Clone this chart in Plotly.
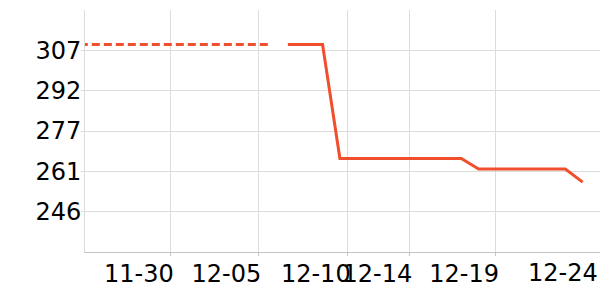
import plotly.graph_objects as go

# Dashed (earlier) series
past_dates = ["2023-11-25", "2023-11-26", "2023-11-27", "2023-11-28", "2023-11-29",
              "2023-11-30", "2023-12-01", "2023-12-02", "2023-12-03", "2023-12-04",
              "2023-12-05", "2023-12-06"]
past_values = [309.45, 309.45, 309.45, 309.45, 309.45, 309.45,
               309.45, 309.45, 309.45, 309.45, 309.45, 309.45]

# Solid series
dates = ["2023-12-07", "2023-12-08", "2023-12-09", "2023-12-10", "2023-12-11",
         "2023-12-12", "2023-12-13", "2023-12-14", "2023-12-15", "2023-12-16",
         "2023-12-17", "2023-12-18", "2023-12-19", "2023-12-20", "2023-12-21",
         "2023-12-22", "2023-12-23", "2023-12-24"]
values = [309.45, 309.45, 309.45, 266.2, 266.2, 266.2, 266.2, 266.2, 266.2, 266.2,
          266.2, 262.2, 262.2, 262.2, 262.2, 262.2, 262.2, 257.2]

# Axis ticks
x_tick_vals = ["2023-11-30 06:00", "2023-12-05 07:00",
               "2023-12-10 10:45", "2023-12-14 00:00", "2023-12-19 00:00"]
x_tick_labels = ["11-30", "12-05", "12-10", "12-14", "12-19"]
last_label = "12-24"
x_range = ["2023-11-25 07:12", "2023-12-25 00:00"]

y_tick_vals = [246.0, 261.3, 276.6, 291.9, 307.2]
y_tick_labels = ["246", "261", "277", "292", "307"]
y_range = [230.7, 322.5]

color = "#f04e2c"
grid = "#dcdcdc"
font = dict(family="DejaVu Sans", size=24, color="#000000")

fig = go.Figure()
fig.add_trace(go.Scatter(x=past_dates, y=past_values, mode="lines",
                         line=dict(color=color, width=3, dash="8px,4px"),
                         showlegend=False, hoverinfo="skip"))
fig.add_trace(go.Scatter(x=dates, y=values, mode="lines",
                         line=dict(color=color, width=3),
                         showlegend=False))

fig.add_annotation(x=x_range[1], xref="x", y=0, yref="paper",
                   text=last_label, showarrow=False, font=font,
                   xanchor="right", yanchor="top", yshift=-5)

fig.update_layout(
    width=600, height=300,
    margin=dict(l=85, r=0, t=10, b=48),
    paper_bgcolor="white", plot_bgcolor="white",
    font=font,
    xaxis=dict(type="date", range=x_range, tickmode="array",
               tickvals=x_tick_vals, ticktext=x_tick_labels,
               tickangle=0, ticklabelposition="outside left",
               ticklabelshift=4,
               showgrid=True, gridcolor=grid, gridwidth=1,
               showline=True, linecolor="#c4c4c4", linewidth=1,
               ticks="outside", ticklen=3, tickcolor="#c4c4c4",
               zeroline=False),
    yaxis=dict(range=y_range, tickmode="array",
               tickvals=y_tick_vals, ticktext=y_tick_labels,
               ticklabelstandoff=-5,
               showgrid=True, gridcolor=grid, gridwidth=1,
               showline=True, linecolor=grid, linewidth=1,
               ticks="outside", ticklen=3, tickcolor=grid,
               zeroline=False),
)

fig.write_html("out.html")
